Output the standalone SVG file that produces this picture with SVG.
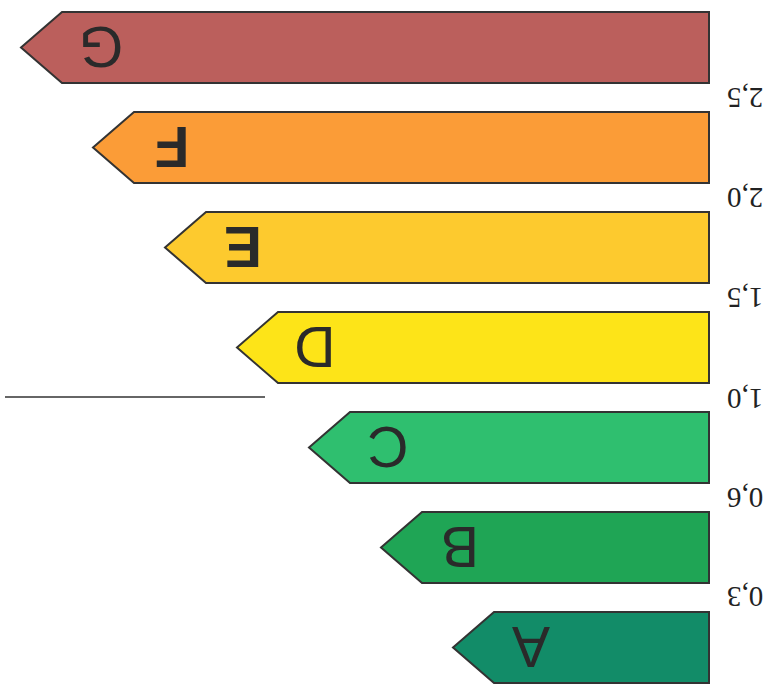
<svg xmlns="http://www.w3.org/2000/svg" width="772" height="684" viewBox="0 0 772 684">
<style>
.bar{stroke:#333;stroke-width:2;stroke-linejoin:miter}
.lt{font-family:"Liberation Sans",Arial,sans-serif;font-size:57px;fill:#2a2a2a;text-anchor:middle}
.num{font-family:"Liberation Serif","Times New Roman",serif;font-size:29px;fill:#222;text-anchor:middle}
</style>
<rect width="772" height="684" fill="#ffffff"/>
<g id="G">
<polygon class="bar" fill="#bb5f5c" points="709,12 62,12 21,47.5 62,83 709,83"/>
<text class="lt" x="101" y="68" transform="rotate(180 101 47.5)">G</text>
</g>
<g id="F">
<polygon class="bar" fill="#fb9c37" points="709,112 134,112 93,147.5 134,183 709,183"/>
<text class="lt" x="172" y="168" font-weight="bold" transform="rotate(180 172 147.5)">F</text>
</g>
<g id="E">
<polygon class="bar" fill="#fdca2e" points="709,212 206,212 165,247.5 206,283 709,283"/>
<text class="lt" x="243" y="268" font-weight="bold" transform="rotate(180 243 247.5)">E</text>
</g>
<g id="D">
<polygon class="bar" fill="#fde418" points="709,312 278,312 237,347.5 278,383 709,383"/>
<text class="lt" x="315" y="368" transform="rotate(180 315 347.5)">D</text>
</g>
<g id="C">
<polygon class="bar" fill="#2fbf6f" points="709,412 350,412 309,447.5 350,483 709,483"/>
<text class="lt" x="388" y="468" transform="rotate(180 388 447.5)">C</text>
</g>
<g id="B">
<polygon class="bar" fill="#1fa555" points="709,512 422,512 381,547.5 422,583 709,583"/>
<text class="lt" x="460" y="568" transform="rotate(180 460 547.5)">B</text>
</g>
<g id="A">
<polygon class="bar" fill="#128c68" points="709,612 494,612 453,647.5 494,683 709,683"/>
<text class="lt" x="531" y="668" transform="rotate(180 531 647.5)">A</text>
</g>
<g id="labels">
<text class="num" x="745" y="108" transform="rotate(180 745 98)">2,5</text>
<text class="num" x="745" y="208" transform="rotate(180 745 198)">2,0</text>
<text class="num" x="745" y="308" transform="rotate(180 745 298)">1,5</text>
<text class="num" x="745" y="409" transform="rotate(180 745 399)">1,0</text>
<text class="num" x="745" y="508" transform="rotate(180 745 498)">0,6</text>
<text class="num" x="745" y="607" transform="rotate(180 745 597)">0,3</text>
</g>
<g id="connectors">
<line x1="5" y1="397" x2="265" y2="397" stroke="#333" stroke-width="1.5"/>
</g>
</svg>
